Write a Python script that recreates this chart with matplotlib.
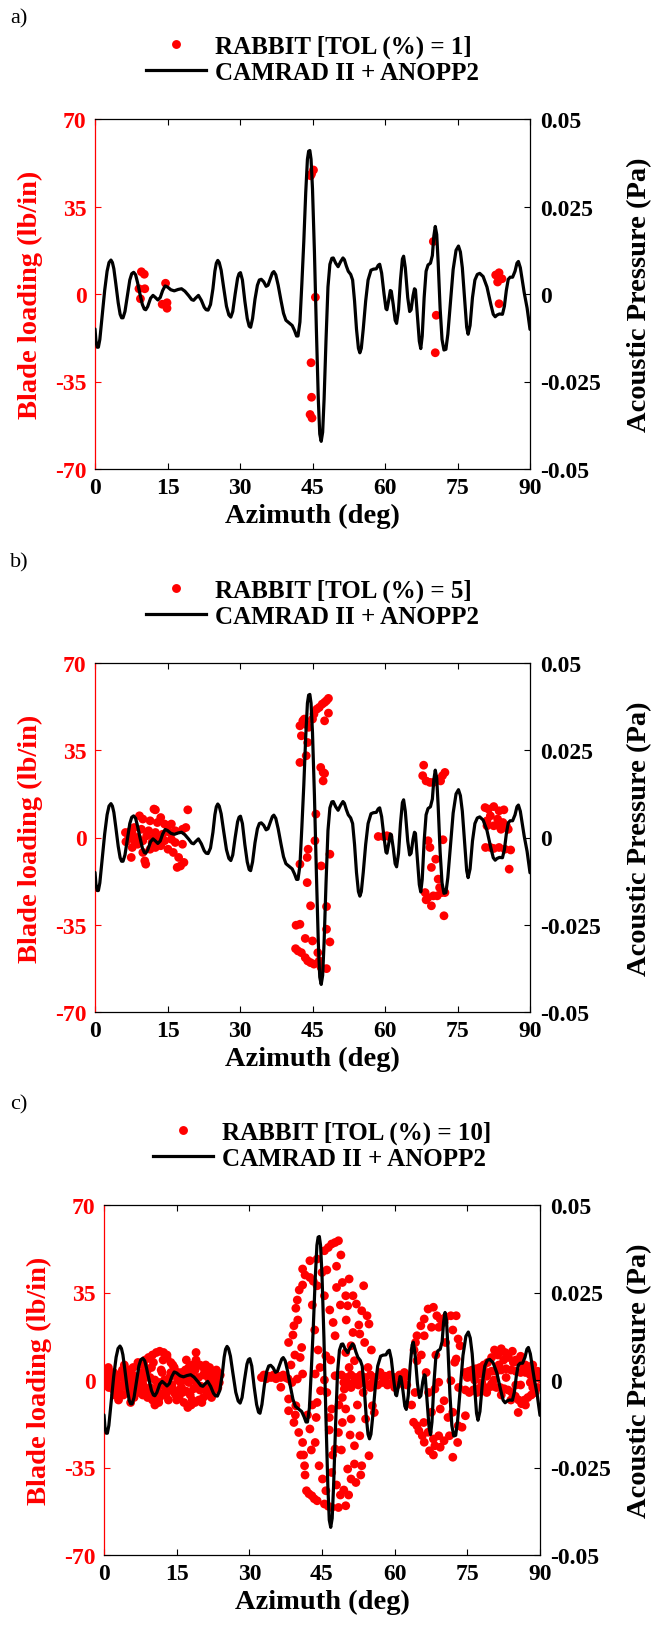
import matplotlib
matplotlib.use('Agg')
import matplotlib.pyplot as plt
from matplotlib.lines import Line2D

# ---------------- data ----------------
# CAMRAD II + ANOPP2 acoustic pressure (Pa) vs azimuth (deg)
line_points = [
    (0.0, -0.0100), (0.2, -0.0135), (0.45, -0.0152), (0.7, -0.0152), (1.0, -0.0130), (1.5, -0.0060),
    (2.0, 0.0010), (2.5, 0.0065), (2.9, 0.0090), (3.3, 0.0097), (3.6, 0.0090), (3.9, 0.0072),
    (4.3, 0.0030), (4.8, -0.0025), (5.2, -0.0058), (5.5, -0.0068), (5.8, -0.0068), (6.2, -0.0050),
    (6.7, -0.0005), (7.2, 0.0040), (7.6, 0.0058), (8.0, 0.0062), (8.4, 0.0055), (8.8, 0.0033),
    (9.3, 0.0000), (9.8, -0.0030), (10.2, -0.0043), (10.5, -0.0045), (10.9, -0.0036), (11.5, -0.0012),
    (12.0, -0.0004), (12.5, -0.0010), (13.0, -0.0017), (13.5, -0.0010), (14.0, 0.0010), (14.5, 0.0023),
    (15.0, 0.0020), (15.7, 0.0012), (16.4, 0.0009), (17.2, 0.0013), (17.9, 0.0015), (18.6, 0.0008),
    (19.4, -0.0005), (20.0, -0.0016), (20.4, -0.0018), (20.8, -0.0012), (21.4, -0.0004), (22.0, -0.0018),
    (22.6, -0.0038), (23.0, -0.0045), (23.4, -0.0046), (23.9, -0.0030), (24.4, 0.0015), (24.8, 0.0065),
    (25.1, 0.0088), (25.4, 0.0096), (25.7, 0.0090), (26.1, 0.0068), (26.6, 0.0020), (27.2, -0.0035),
    (27.7, -0.0060), (28.1, -0.0066), (28.5, -0.0050), (29.0, 0.0000), (29.5, 0.0045), (29.8, 0.0058),
    (30.1, 0.0061), (30.5, 0.0040), (31.0, -0.0020), (31.5, -0.0070), (31.9, -0.0092), (32.2, -0.0095),
    (32.6, -0.0070), (33.1, -0.0015), (33.6, 0.0025), (34.0, 0.0040), (34.4, 0.0042), (34.9, 0.0035),
    (35.4, 0.0022), (35.8, 0.0025), (36.3, 0.0045), (36.7, 0.0060), (37.0, 0.0064), (37.4, 0.0055),
    (37.9, 0.0025), (38.5, -0.0020), (39.0, -0.0055), (39.5, -0.0075), (40.2, -0.0083), (40.8, -0.0090),
    (41.3, -0.0105), (41.7, -0.0120), (42.0, -0.0120), (42.4, -0.0080), (42.8, 0.0030), (43.2, 0.0150),
    (43.6, 0.0290), (43.95, 0.0385), (44.2, 0.0408), (44.45, 0.0410), (44.7, 0.0385), (45.0, 0.0300),
    (45.4, 0.0120), (45.8, -0.0100), (46.2, -0.0300), (46.5, -0.0400), (46.8, -0.0421), (47.1, -0.0395),
    (47.4, -0.0300), (47.8, -0.0130), (48.2, 0.0020), (48.6, 0.0085), (49.0, 0.0102), (49.3, 0.0103),
    (49.8, 0.0088), (50.3, 0.0078), (50.8, 0.0092), (51.3, 0.0103), (51.6, 0.0098), (52.0, 0.0080),
    (52.4, 0.0065), (52.9, 0.0056), (53.3, 0.0040), (53.7, -0.0020), (54.1, -0.0100), (54.5, -0.0155),
    (54.8, -0.0168), (55.1, -0.0155), (55.5, -0.0100), (56.0, -0.0020), (56.5, 0.0040), (57.1, 0.0068),
    (57.6, 0.0071), (58.2, 0.0072), (58.6, 0.0082), (58.9, 0.0085), (59.3, 0.0060), (59.8, 0.0000),
    (60.2, -0.0042), (60.4, -0.0045), (60.8, -0.0015), (61.1, 0.0010), (61.3, 0.0008), (61.7, -0.0030),
    (62.1, -0.0075), (62.4, -0.0084), (62.8, -0.0045), (63.2, 0.0040), (63.6, 0.0100), (63.85, 0.0108),
    (64.2, 0.0075), (64.7, -0.0010), (65.1, -0.0050), (65.4, -0.0045), (65.8, -0.0005), (66.1, 0.0015),
    (66.3, 0.0012), (66.7, -0.0060), (67.1, -0.0135), (67.4, -0.0156), (67.7, -0.0120), (68.1, -0.0010),
    (68.5, 0.0065), (68.9, 0.0083), (69.4, 0.0088), (69.8, 0.0110), (70.1, 0.0165), (70.4, 0.0193),
    (70.7, 0.0170), (71.0, 0.0090), (71.4, -0.0040), (71.8, -0.0130), (72.2, -0.0160), (72.6, -0.0158),
    (73.0, -0.0115), (73.5, -0.0030), (74.1, 0.0070), (74.7, 0.0125), (75.2, 0.0137), (75.6, 0.0120),
    (76.0, 0.0075), (76.5, -0.0020), (76.9, -0.0095), (77.2, -0.0115), (77.6, -0.0090), (78.1, -0.0010),
    (78.6, 0.0040), (79.1, 0.0056), (79.6, 0.0059), (80.3, 0.0050), (81.1, 0.0020), (81.9, -0.0030),
    (82.4, -0.0058), (82.8, -0.0065), (83.2, -0.0060), (83.7, -0.0057), (84.3, -0.0058), (84.7, -0.0035),
    (85.1, 0.0010), (85.5, 0.0042), (85.9, 0.0048), (86.4, 0.0048), (86.9, 0.0065), (87.3, 0.0088),
    (87.6, 0.0093), (88.0, 0.0075), (88.4, 0.0040), (88.8, 0.0004), (89.4, -0.0040), (90.0, -0.0101)]
line_az = [p[0] for p in line_points]
line_pa = [p[1] for p in line_points]

# RABBIT, TOL = 1 %
a_az = [9.6, 10.2, 9.1, 10.3, 9.4, 14.6, 13.9, 14.9, 14.9, 44.6, 45.2, 44.8, 45.6, 44.7, 44.8,
        44.5, 44.9, 70.0, 70.6, 70.4, 82.9, 83.6, 83.3, 84.2, 83.6]
a_load = [8.9, 7.9, 2.1, 2.1, -1.9, 4.3, -4.1, -3.5, -5.7, 47.3, 49.6, 48.0, -1.3, -27.5, -41.3,
          -48.2, -49.6, 21.0, -8.5, -23.5, 7.6, 8.5, 4.8, 6.1, -3.9]

# RABBIT, TOL = 5 %
b_az = [6.3, 6.4, 7.5, 7.7, 8.1, 12.2, 12.5, 13.6, 10.5, 10.3,
        7.7, 8.8, 9.9, 11.4, 12.5, 13.6, 15.1, 16.2, 17.3, 17.0, 17.7, 18.4,
        7.0, 8.8, 10.7, 12.2, 14.0, 15.5, 16.6, 18.1, 18.8,
        9.2, 9.9, 11.4, 12.9, 14.4, 15.1, 15.8, 19.2,
        7.4, 9.6, 11.1, 12.5, 13.3, 14.4, 11.8, 9.9, 8.1, 16.6, 18.1, 15.8,
        42.4, 42.7, 43.0, 43.3, 43.7, 44.2, 44.0, 43.7, 42.4, 45.0, 45.3, 45.9, 46.4, 47.0, 47.5,
        47.9, 48.3, 47.5, 48.3, 46.7, 47.2, 47.5, 47.2, 45.7, 45.5, 44.1, 43.9, 42.4, 46.8, 48.6,
        43.9, 44.6, 47.9, 47.9, 41.6, 42.4, 43.5, 45.0, 48.6, 41.5, 42.0, 42.7, 43.5, 44.0, 44.6,
        45.3, 46.1, 46.4, 46.8, 47.9,
        58.6, 59.7, 60.4, 60.8,
        68.0, 67.8, 68.5, 69.3, 70.0, 71.1, 71.9, 72.4, 71.5, 68.9, 69.3, 72.0, 69.6, 70.5, 71.0,
        71.3, 72.4, 68.3, 68.9, 68.5, 70.0, 69.6, 70.8, 72.2, 71.7,
        80.7, 81.4, 82.5, 83.6, 84.6, 81.1, 81.8, 83.3, 84.4, 81.1, 82.5, 83.6, 85.1, 85.5, 84.0,
        80.8, 81.8, 82.5, 83.6, 84.8, 86.0, 85.7]
b_load = [2.0, -1.7, -8.0, 1.6, 4.0, 11.4, 11.1, 8.0, -10.7, -9.4,
          -4.0, -2.7, -6.0, -4.7, -4.0, -3.3, -4.7, -6.0, -8.0, -12.0, -11.4, -10.0,
          0.0, 0.0, 0.7, 0.0, 1.3, 2.0, 2.7, 3.3, 4.0,
          8.7, 7.4, 6.7, 6.0, 5.4, 4.7, 5.4, 11.1,
          2.7, 3.3, 2.7, 2.0, -0.7, -1.3, -2.0, -1.3, -1.3, -2.0, -2.7, -0.7,
          44.8, 40.8, 46.8, 47.5, 45.5, 44.2, 38.1, 32.8, 30.1, 47.5, 49.5, 51.5, 52.2, 53.5, 54.2,
          54.9, 55.8, 46.8, 49.9, 28.1, 26.1, 25.7, 22.7, 9.4, -1.3, -4.7, -8.0, -10.7, -11.4, -6.7,
          -18.1, -27.4, -27.7, -36.8, -35.2, -34.8, -40.5, -41.5, -41.9, -44.6, -45.5, -46.2, -48.2,
          -49.5, -50.2, -50.8, -46.2, -49.5, -52.2, -52.6,
          0.4, 0.4, 0.7, 0.4,
          29.0, 24.8, 22.7, 22.1, 22.1, 23.4, 24.8, 26.1, 22.7, -1.3, -4.0, -0.9, -12.0, -8.7, -16.7,
          -20.1, -22.1, -22.1, -24.1, -25.0, -23.4, -27.4, -23.4, -31.4, -22.1,
          12.0, 11.4, 12.4, 10.7, 11.1, 6.7, 8.7, 7.4, 6.0, 4.7, 4.7, 4.7, 4.7, 3.3, 3.3,
          -4.0, -4.0, -4.4, -4.0, -4.7, -5.0, -12.7]

# RABBIT, TOL = 10 %  (grouped by region)
c1_az = [0.2, 0.6, 1.2, 2.0, 3.0, 4.0, 5.0, 6.0, 7.0, 7.8, 8.5, 9.2, 10.0, 10.8, 11.5, 12.3, 13.0,
         13.8, 14.5, 15.3, 16.0, 16.8, 17.5, 18.2, 19.0, 19.8, 20.5, 21.2, 22.0, 22.8, 23.5,
         0.0, 0.8, 1.5, 2.5, 3.5, 4.5, 5.5, 6.5, 7.5, 8.5, 9.5, 10.5, 11.5, 12.5, 13.5, 14.5, 15.5,
         16.5, 17.5, 18.5, 19.5, 20.5, 21.5, 22.5, 23.5, 24.0,
         0.3, 1.0, 2.0, 3.0, 4.0, 5.0, 6.0, 7.0, 8.0, 9.0, 10.0, 10.5, 11.5, 12.5, 13.5, 14.5, 15.5,
         16.5, 17.3, 18.0, 18.8, 19.6, 20.5, 21.3, 22.0, 22.8, 23.5,
         2.0, 4.0, 6.0, 8.0, 9.0, 12.0, 14.0, 16.0, 18.0, 20.0, 21.0, 3.0, 5.5, 7.0, 13.0, 15.0, 11.0,
         1.5, 3.5, 5.0, 6.5, 8.0, 9.5, 11.0, 12.5, 14.0, 15.5, 17.0, 18.5, 20.0, 21.5, 23.0,
         0.5, 1.8, 2.8, 3.8, 4.8, 5.8, 6.8, 7.8, 8.8, 9.8, 10.8, 11.8, 12.8, 13.8, 14.8, 15.8, 16.8,
         17.8, 18.8, 19.8, 20.8, 21.8, 22.8, 23.8, 0.9, 2.2, 4.2, 6.2, 8.2, 10.2, 12.2, 14.2, 16.2,
         18.2, 20.2, 22.2, 9.8, 11.3, 13.3, 17.0, 19.0, 21.0, 3.3, 5.3, 7.3, 8.6, 15.2, 19.2, 21.8,
         23.2]
c1_load = [3, 4, 2, 1, 2, 3, 4, 5, 6, 7, 8, 9, 10, 11, 11.5, 11, 9, 7, 5, 3, 3, 4, 5, 6, 11, 6, 5,
           4, 3, 2, 1,
           1, 0, -1, 0, 1, 0, -1, 0, 1, 2, 1, 0, -1, 0, 1, 2, 1, 0, -1, 0, 1, 2, 1, 2, 3, 2,
           -2, -3, -4, -5, -6, -5, -4, -5, -6, -7, -8, -10, -7, -5, -4, -5, -7, -9, -11, -10, -9,
           -8, -7, -6, -5, -4, -3,
           3, -2, 2, -3, 4, 3, -2, -3, 2, -3, 6, -8, -9, 7, 10, -8, -5,
           -2, -2.5, -3, -2, -1.5, -3, -3.5, -2.5, -3, -4, -4.5, -3.5, -2.5, -2, -1.5,
           -1, 2, -2, 4, -3, 2, -2, 3, -4, 5, -3, 4, -6, 3, -6, -1, 1, -6, 4, -4, 3, -2, 0, -1,
           5, -6, 6, -7, 6, 7, 8, 6, -5, -8, -9, -7, -6, -9, -8, 8, 8, -4, -3.5, 1, -1, 1, 0, -2, 5,
           4]
c2_az = [32.5, 33.0, 33.5, 34.0, 34.5, 35.0, 35.5, 36.0, 36.5, 37.0, 37.5, 38.0, 36.5]
c2_load = [1, 2, 0.5, 1.5, 1, 2, 0.5, 1.5, 1, 2, 1, 0.5, -2.9]
c3_az = [38.1, 39.2, 39.6, 41.0, 42.5, 44.0, 45.5, 47.0, 48.4, 40.3, 39.9, 46.3, 47.7,
         42.5, 44.0, 45.5, 46.6, 47.3, 47.7, 41.5, 43.2,
         49.2, 50.6, 51.4, 52.1, 53.2, 54.3, 54.7, 53.6, 52.8, 51.4, 51.0, 51.7, 50.6, 49.9, 50.3,
         49.9, 48.9, 48.0,
         38.1, 39.2, 41.0, 41.4, 41.8, 42.9, 44.0, 45.5, 47.0, 48.4, 49.9, 40.2, 41.2, 42.3, 43.4,
         46.3,
         42.5, 43.6, 44.4, 45.1, 45.8, 47.0, 47.7, 48.4, 49.2, 49.6, 49.9, 50.3, 51.0, 51.7, 51.7,
         52.8, 53.2, 54.7, 55.8, 55.4, 54.0, 51.0, 49.2,
         45.5, 45.8, 43.6, 44.7, 47.7, 47.0, 44.0, 41.0, 39.9, 38.8, 38.1, 39.6, 40.5, 40.8, 39.0,
         42.0, 43.0, 46.5,
         43.0, 43.5, 44.2, 44.6, 46.0, 46.5, 47.2, 48.0, 48.8, 49.5, 50.5, 52.0, 53.0, 52.3, 53.5,
         54.5, 55.2, 53.8, 52.6, 50.0, 48.8, 48.0, 46.0, 45.0, 49.0, 50.8, 48.5, 50.0, 46.8, 43.8,
         42.8, 41.5, 40.6, 39.5, 38.6, 39.4, 40.0, 41.0]
c3_load = [15, 21.7, 28.7, 44.4, 47.7, 48.4, 51.7, 54.4, 55.7, 36, 32, 53, 55,
           41, 37.7, 33.7, 28, 23, 17.7, 42, 39.5,
           39, 40.4, 33.7, 30.4, 27.7, 25.7, 22.4, 37.7, 18.4, 19, 13.7, 7.7, 5, 11, 29.7,
           33.7, 50.0, 45.5,
           -12.3, -17, -25, -34.3, -44.3, -46.3, -48.3, -49.6, -51, -51, -50.3, -21, -30, -45.5,
           -47.5, -50.5,
           -19.6, -25, -34.3, -39.6, -44.3, -37, -27.6, -21, -17, -3.6, -11.6, -35.6, -39.6, -33.6,
           -26.3, -22.3, -34.3, -30.3, -13, -10.3, -15.6, -15.6, -7,
           0, 9.7, 2.4, -4.3, 1.7, -11.6, -9, 2.4, 0.4, -1, -7.6, -10.3, 9, 13, 18,
           -14, -10, -20,
           30, 20, 12, 5, -5, -15, -30, -42, -46, -44, -46, -41, -38, -10, -5,
           5, 12, 15, 22, 24, 30, 37, 44, 43, -28, -22, -10, -1, 8, -15,
           -28, -38, -30, -14, 6, 10, 24, 38]
c4_az = [49, 50, 51, 52, 53, 54, 55, 56, 57, 58, 59, 60, 61, 62,
         49.5, 50.5, 51.5, 52.5, 53.5, 54.5, 55.5, 56.5, 57.5, 58.5, 59.5, 60.5, 61.5, 62.5,
         55, 57, 60, 62, 58, 53, 51]
c4_load = [2, 1, 2, 1, 2, 1, 2, 1, 2, 1.5, 2, 1, 2, 1,
           -1, -2, -1, -2, -1, -2, -1, -2, -1, -2, -1, -2, -1, -2,
           -3, 3, -3, 3, 0, 0, -3]
c5_az = [64.6, 65.4, 66.1, 66.9, 68.0, 68.7, 69.4, 70.5, 71.6, 72.7, 67.6, 69.1, 70.2, 73.1,
         73.5, 72.7, 72.4, 64.6, 66.1,
         63.9, 64.6, 65.7, 66.1, 67.2, 68.3, 69.4, 70.2, 71.3, 72.0, 73.1, 73.9, 74.6, 69.1, 68.0,
         66.9, 65.0,
         69.1, 71.6, 70.2, 69.4, 68.3, 67.6, 72.0, 63.5, 64.0, 73.2,
         64.3, 65.5, 66.5, 67.0, 68.5, 70.5, 72.0, 71.0, 73.0, 66.0, 68.0, 64.2]
c5_load = [17.7, 21.7, 24.4, 28.4, 29.1, 25.7, 24.4, 25.1, 25.7, 25.7, 21.1, 21.1, 23.1, 16.4,
           13.7, 8.4, 7.1, 7.7, 17.7,
           -16.9, -18.3, -22.3, -24.9, -28.3, -26.3, -26.9, -24.3, -22.3, -30.9, -18.3, -18.9,
           -14.3, -22.3, -23.6, -20.9, -20.3,
           -0.9, -0.3, -8.3, -11.6, -3.6, -12.9, -12.9, -10, 12, -3,
           15, 10, 3, -5, 10, 15, 20, -15, -25, -17, -30, -5]
c6_az = [74.5, 75.3, 76.0, 76.8, 77.6, 78.4, 79.2, 80.0, 80.6, 81.3, 82.0, 82.8, 83.5, 84.3,
         85.0, 85.8, 86.6, 87.4, 88.2, 89.0, 89.7,
         75, 76, 77, 78, 79, 80, 81, 82, 83, 84, 85, 86, 87, 88, 89, 90,
         74.6, 75.4, 76.2, 77.0, 77.8, 78.6, 79.4, 80.2, 81.0, 81.8, 82.6, 83.4, 84.2, 84.9, 85.6,
         86.2, 85.5, 86.8, 87.5, 88.2, 89.0, 89.6,
         80.5, 83, 86, 78, 88,
         76.5, 79.0, 81.5, 82.5, 84.5, 86.0, 87.0, 88.5, 89.5, 90.0, 77.0, 79.0, 82.0, 84.0, 87.0,
         88.5, 80.0, 85.0]
c6_load = [3, 3.5, 4, 4.5, 5, 6, 7, 9, 12, 10, 12.5, 11, 9, 11.5, 8, 7, 5.5, 5, 4.5, 3, 1.5,
           1, 1.5, 2, 2.5, 3, 3.5, 3.5, 4, 4.5, 4, 3.5, 3, 3, 2, 1, 0.5,
           -4, -5, -4, -3.5, -3, -3, -3, -2.5, -3, -3, -3.5, -4, -5, -6.5, -8, -9.5, -13, -8, -7,
           -6, -5, -3,
           0, 1, -2, -1, -1,
           0, 1.5, 6, 8, 7, 9.5, 6, 6, 3.5, 1, -5, -5, -6, -8, -10, -3, -1.5, -2]

c_az = c1_az + c2_az + c3_az + c4_az + c5_az + c6_az
c_load = c1_load + c2_load + c3_load + c4_load + c5_load + c6_load

x_ticks = [0, 15, 30, 45, 60, 75, 90]
y1_ticks = [-70, -35, 0, 35, 70]
y1_labels = ['-70', '-35', '0', '35', '70']
y2_ticks = [-0.05, -0.025, 0, 0.025, 0.05]
y2_labels = ['-0.05', '-0.025', '0', '0.025', '0.05']
tol_values = [1, 5, 10]
panel_letters = ['a)', 'b)', 'c)']

# ---------------- figure ----------------
FONT = ['Liberation Serif', 'DejaVu Serif']
plt.rcParams['font.family'] = FONT
plt.rcParams['axes.unicode_minus'] = False

W, H = 656, 1633
fig = plt.figure(figsize=(W / 100, H / 100), dpi=100)

# axes boxes in pixels: left, top, right, bottom
boxes = [(95, 120, 530, 470), (95, 664, 530, 1013), (104, 1206, 540, 1556)]
label_y = [19, 563, 1105]
right_pads = [19, 19, 12]
scatter_sets = [(a_az, a_load), (b_az, b_load), (c_az, c_load)]

RED = '#ff0000'
TICK_FS = 17
LAB_FS = 20.5

for i in range(3):
    l, t, r, b = boxes[i]
    ax = fig.add_axes([l / W, 1 - b / H, (r - l) / W, (b - t) / H])
    ax2 = ax.twinx()

    sx, sy = scatter_sets[i]
    ax.scatter(sx, sy, s=40, color=RED, edgecolors='none', zorder=3)
    ax2.plot(line_az, line_pa, color='black', lw=2.3, solid_joinstyle='round',
             solid_capstyle='round', zorder=4)

    ax.set_xlim(0, 90)
    ax.set_ylim(-70, 70)
    ax2.set_ylim(-0.05, 0.05)
    ax.set_xticks(x_ticks)
    ax.set_xticklabels([str(v) for v in x_ticks])
    ax.set_yticks(y1_ticks)
    ax.set_yticklabels(y1_labels)
    ax2.set_yticks(y2_ticks)
    ax2.set_yticklabels(y2_labels)

    for sp in ['top', 'bottom', 'right']:
        ax.spines[sp].set_visible(False)
    ax.spines['left'].set_color(RED)
    ax.spines['left'].set_linewidth(0.9)
    ax2.spines['left'].set_visible(False)
    for sp in ['top', 'bottom', 'right']:
        ax2.spines[sp].set_color('black')
        ax2.spines[sp].set_linewidth(0.9)

    ax.tick_params(axis='x', direction='in', top=True, length=4, width=0.8, pad=6,
                   labelsize=TICK_FS, colors='black')
    ax.tick_params(axis='y', direction='in', length=4, width=0.8, pad=6,
                   labelsize=TICK_FS, colors=RED)
    ax2.tick_params(axis='y', direction='in', length=4, width=0.8, pad=7,
                    labelsize=TICK_FS, colors='black')
    for lab in ax.get_xticklabels() + ax.get_yticklabels() + ax2.get_yticklabels():
        lab.set_fontweight('bold')

    ax.set_xlabel('Azimuth (deg)', fontsize=LAB_FS, fontweight='bold', labelpad=3)
    ax.set_ylabel('Blade loading (lb/in)', fontsize=LAB_FS, fontweight='bold', color=RED,
                  labelpad=9)
    ax2.set_ylabel('Acoustic Pressure (Pa)', fontsize=LAB_FS, fontweight='bold',
                   color='black', labelpad=right_pads[i])

    h1 = Line2D([], [], ls='none', marker='o', markersize=6.4, color=RED, markeredgewidth=0)
    h2 = Line2D([], [], color='black', lw=2.3)
    ax2.legend([h1, h2], ['RABBIT [TOL (%%) = %d]' % tol_values[i], 'CAMRAD II + ANOPP2'],
               loc='lower center', bbox_to_anchor=(0.5, 1.10), frameon=False,
               prop={'family': FONT, 'weight': 'bold', 'size': 18},
               handlelength=2.4, handletextpad=0.35, labelspacing=0.12, borderpad=0,
               borderaxespad=0)

    fig.text(10 / W, 1 - label_y[i] / H, panel_letters[i], fontsize=16, fontweight='normal',
             va='center', ha='left')

fig.savefig('out.png', dpi=100)
